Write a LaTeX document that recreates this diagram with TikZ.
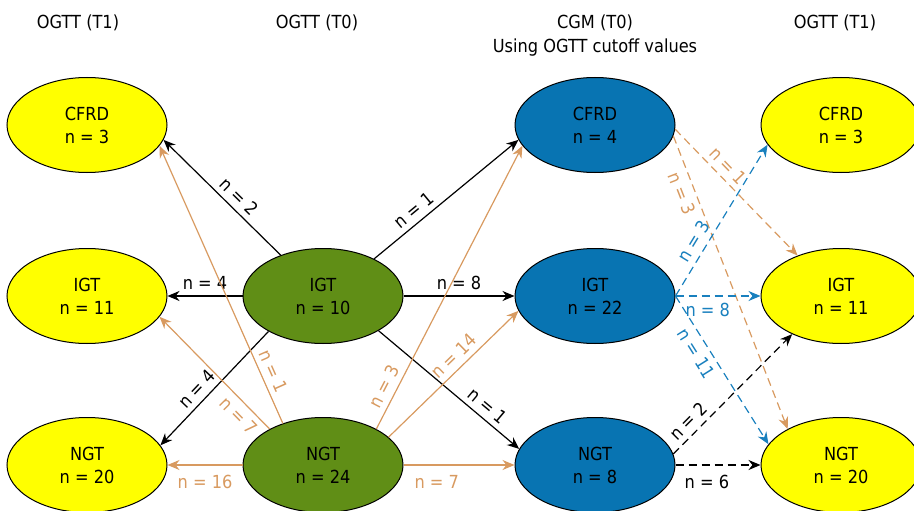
\documentclass[tikz,border=0pt]{standalone}
\usepackage{fontspec}
\setmainfont{DejaVu Sans}[FakeStretch=0.9]
\usetikzlibrary{shapes.geometric,arrows.meta}

\definecolor{ovalyellow}{RGB}{255,255,0}
\definecolor{ovalgreen}{RGB}{96,142,22}
\definecolor{ovalblue}{RGB}{8,116,178}
\definecolor{tan}{RGB}{216,154,96}
\definecolor{flowblue}{RGB}{25,128,190}

\tikzset{
  oval/.style={ellipse, draw=black, line width=1pt, minimum width=160pt,
    minimum height=95pt, inner sep=0pt, align=center,
    font=\fontsize{18}{23}\selectfont},
  t1oval/.style={oval, fill=ovalyellow},
  t0oval/.style={oval, fill=ovalgreen},
  cgmoval/.style={oval, fill=ovalblue},
  head/.style={font=\fontsize{18}{24}\selectfont, inner sep=0pt, anchor=base},
  link/.style={line width=1.2pt, -{Stealth[length=12pt,width=10pt]}},
  dashlink/.style={link, dash pattern=on 8pt off 5pt},
  lab/.style={font=\fontsize{18}{20}\selectfont, inner sep=5.5pt}
}

\begin{document}
\begin{tikzpicture}[x=1pt,y=-1pt]
\useasboundingbox (0,0) rectangle (914,511);

% column headings
\node[head] (h1) at (78,29) {OGTT (T1)};
\node[head] (h2) at (317,29) {OGTT (T0)};
\node[head] (h3) at (595,29) {CGM (T0)};
\node[head] (h3b) at (595,53) {Using OGTT cutoff values};
\node[head] (h4) at (835,29) {OGTT (T1)};

% OGTT at T1 (left)
\node[t1oval] (l1) at (87,125) {CFRD\\n = 3};
\node[t1oval] (l2) at (87,296) {IGT\\n = 11};
\node[t1oval] (l3) at (87,465) {NGT\\n = 20};

% OGTT at T0
\node[t0oval] (m1) at (323,296) {IGT\\n = 10};
\node[t0oval] (m2) at (323,465) {NGT\\n = 24};

% CGM at T0
\node[cgmoval] (c1) at (595,125) {CFRD\\n = 4};
\node[cgmoval] (c2) at (595,296) {IGT\\n = 22};
\node[cgmoval] (c3) at (595,465) {NGT\\n = 8};

% OGTT at T1 (right)
\node[t1oval] (r1) at (841,125) {CFRD\\n = 3};
\node[t1oval] (r2) at (841,296) {IGT\\n = 11};
\node[t1oval] (r3) at (841,465) {NGT\\n = 20};

% from IGT at T0
\draw[link] (m1.136) -- node[lab, sloped, above, pos=0.43] {n = 2} (l1.-11);
\draw[link] (m1.west) -- node[lab, above] {n = 4} (l2.east);
\draw[link] (m1.213) -- node[lab, sloped, above, pos=0.58] {n = 4} (l3.15);
\draw[link] (m1.36) -- node[lab, sloped, above, pos=0.33] {n = 1} (c1.191);
\draw[link] (m1.east) -- node[lab, above] {n = 8} (c2.west);
\draw[link] (m1.-32) -- node[lab, sloped, above, pos=0.72] {n = 1} (c3.168);

% from NGT at T0
\draw[link, tan] (m2.134) -- node[lab, sloped, above, pos=0.17] {n = 1} (l1.-16);
\draw[link, tan] (m2.146) -- node[lab, sloped, below, pos=0.2] {n = 7} (l2.-16);
\draw[link, tan] (m2.west) -- node[lab, below=4pt] {n = 16} (l3.east);
\draw[link, tan] (m2.34) -- node[lab, sloped, above, pos=0.13] {n = 3} (c1.196);
\draw[link, tan] (m2.23) -- node[lab, sloped, above, pos=0.57] {n = 14} (c2.191);
\draw[link, tan] (m2.east) -- node[lab, below=4pt, pos=0.3] {n = 7} (c3.west);

% CGM at T0 to OGTT at T1
\draw[dashlink, tan] (c1.-3) -- node[lab, sloped, above, pos=0.36] {n = 1} (r2.137);
\draw[dashlink, tan] (c1.-8) -- node[lab, sloped, below, pos=0.18] {n = 3} (r3.146);
\draw[dashlink, flowblue] (c2.east) -- node[lab, sloped, above, pos=0.32] {n = 3} (r1.195);
\draw[dashlink, flowblue] (c2.east) -- node[lab, below=1pt, pos=0.38] {n = 8} (r2.west);
\draw[dashlink, flowblue] (c2.east) -- node[lab, sloped, below, pos=0.34] {n = 11} (r3.164);
\draw[dashlink] (c3.8) -- node[lab, sloped, above, pos=0.2] {n = 2} (r2.218);
\draw[dashlink] (c3.east) -- node[lab, below=4pt, pos=0.37] {n = 6} (r3.west);
\end{tikzpicture}
\end{document}
